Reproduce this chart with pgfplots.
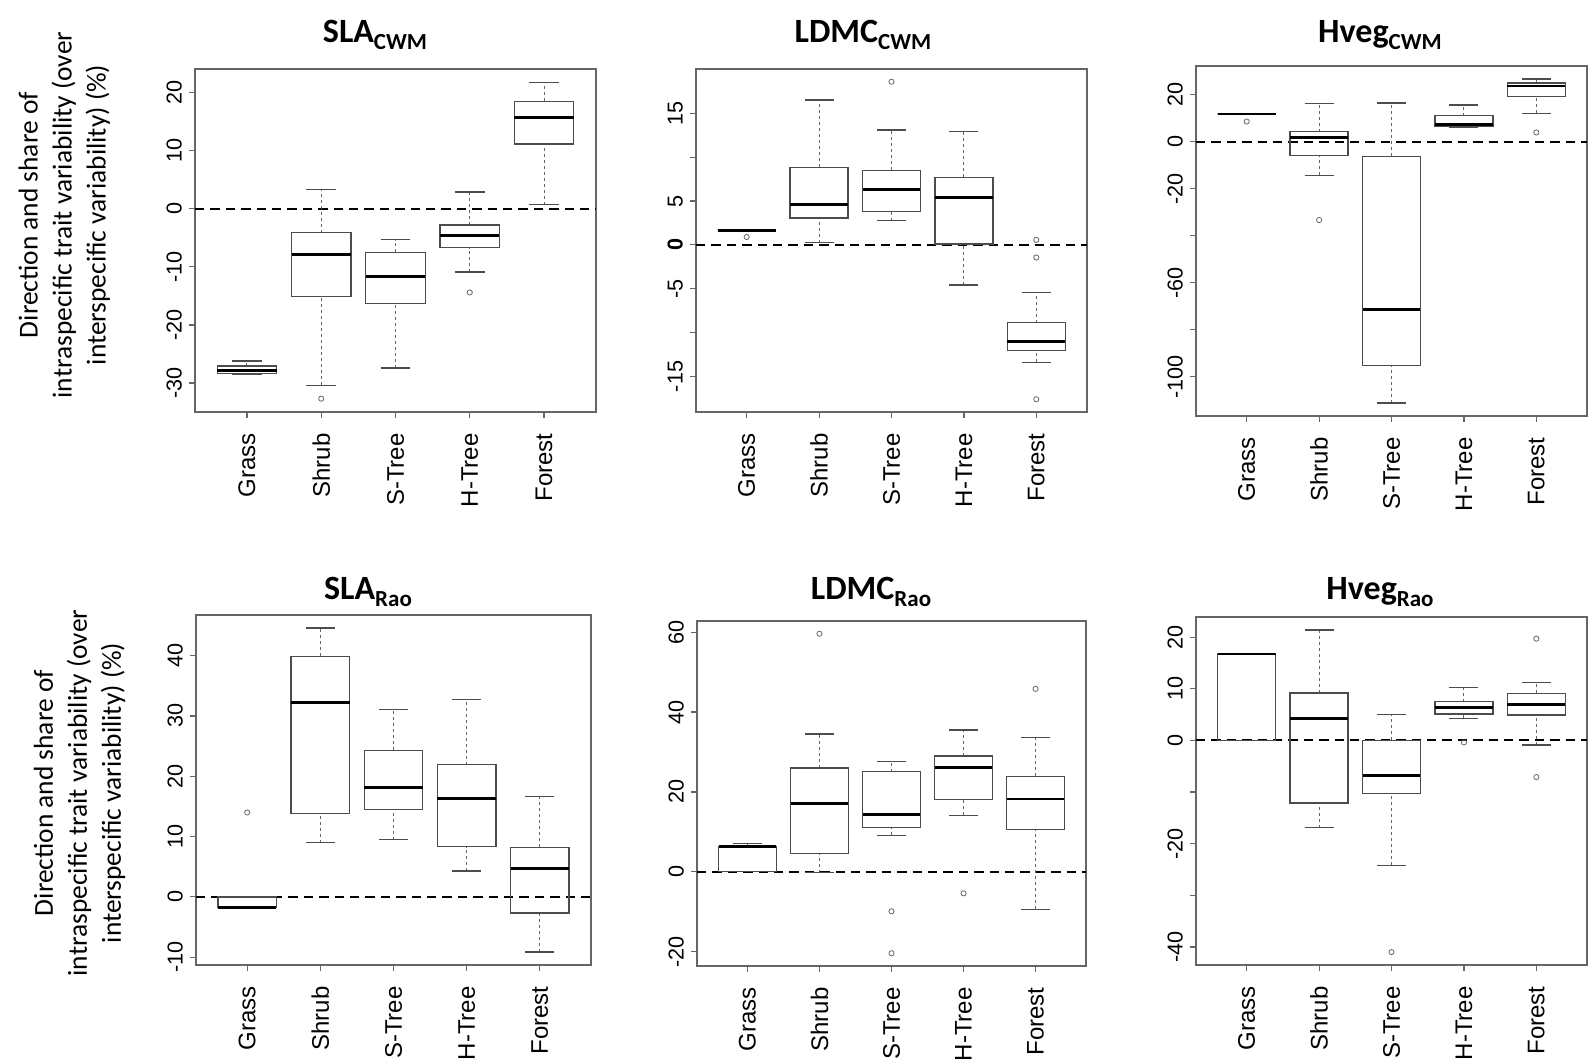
\documentclass[border=0pt]{standalone}
\usepackage{fontspec}
\setmainfont{Liberation Sans}
\newfontfamily\calib{Carlito}
\usepackage{pgfplots}
\pgfplotsset{compat=1.18}
\usepgfplotslibrary{statistics}

\pgfplotsset{
  rbox/.style={
    scale only axis,
    xmin=0.3, xmax=5.7,
    axis line style={draw=black!60, line width=0.6pt},
    every tick/.style={draw=black!60, line width=0.6pt},
    tick align=outside,
    major tick length=3pt,
    tick pos=left,
    xtick={1,2,3,4,5},
    xticklabels={Grass,Shrub,S-Tree,H-Tree,Forest},
    xticklabel style={rotate=90, anchor=east, font=\fontsize{12}{14}\selectfont},
    yticklabel style={rotate=90, anchor=south, font=\fontsize{10.8}{12}\selectfont},
    xticklabel shift=4.2pt,
    yticklabel shift=0pt,
    boxplot/draw direction=y,
    boxplot/box extend=0.8,
    boxplot/whisker extend=0.4,
    boxplot/every box/.style={draw=black!70, line width=0.65pt},
    boxplot/every median/.style={draw=black, line width=1.4pt},
    boxplot/draw/lower whisker/.code={%
      \draw[black!60, line width=0.5pt, dash pattern=on 1.5pt off 1.5pt]
        (boxplot box cs:\pgfplotsboxplotvalue{lower whisker},0.5) --
        (boxplot box cs:\pgfplotsboxplotvalue{lower quartile},0.5);
      \draw[black!70, line width=0.65pt]
        (boxplot whisker cs:\pgfplotsboxplotvalue{lower whisker},0) --
        (boxplot whisker cs:\pgfplotsboxplotvalue{lower whisker},1);
    },
    boxplot/draw/upper whisker/.code={%
      \draw[black!60, line width=0.5pt, dash pattern=on 1.5pt off 1.5pt]
        (boxplot box cs:\pgfplotsboxplotvalue{upper quartile},0.5) --
        (boxplot box cs:\pgfplotsboxplotvalue{upper whisker},0.5);
      \draw[black!70, line width=0.65pt]
        (boxplot whisker cs:\pgfplotsboxplotvalue{upper whisker},0) --
        (boxplot whisker cs:\pgfplotsboxplotvalue{upper whisker},1);
    },
  },
  bx/.style={draw=black!70, solid, mark=o, mark size=1.3pt,
    mark options={draw=black!60, line width=0.4pt, solid}},
  zeroline/.style={black, line width=1pt, dash pattern=on 4.7pt off 3pt},
}

\newcommand{\ttl}[2]{{\calib\bfseries\fontsize{17}{20}\selectfont #1\raisebox{-3.5pt}{\fontsize{11.5}{12}\selectfont #2}}}

\begin{document}
\begin{tikzpicture}
\useasboundingbox (0,0) rectangle (794.5pt,532pt);

% ---------- P1 SLA CWM ----------
\begin{axis}[rbox, at={(97.5pt,326pt)}, anchor=south west,
  width=200.5pt, height=171.5pt, ymin=-35, ymax=24.1,
  ytick={-30,-20,-10,0,10,20}, yticklabels={-30,-20,-10,0,10,20}]
\addplot[zeroline] coordinates {(0.3,0) (5.7,0)};
\addplot[bx, boxplot prepared={draw position=1, lower whisker=-28.5, lower quartile=-28.4, median=-27.8, upper quartile=-27.1, upper whisker=-26.2}] coordinates {};
\addplot[bx, boxplot prepared={draw position=2, lower whisker=-30.4, lower quartile=-15.1, median=-7.8, upper quartile=-4.1, upper whisker=3.3}] table[row sep=\\, y index=0] {\\ -32.7\\};
\addplot[bx, boxplot prepared={draw position=3, lower whisker=-27.4, lower quartile=-16.3, median=-11.7, upper quartile=-7.5, upper whisker=-5.3}] coordinates {};
\addplot[bx, boxplot prepared={draw position=4, lower whisker=-10.9, lower quartile=-6.7, median=-4.6, upper quartile=-2.8, upper whisker=2.9}] table[row sep=\\, y index=0] {\\ -14.4\\};
\addplot[bx, boxplot prepared={draw position=5, lower whisker=0.7, lower quartile=11.2, median=15.8, upper quartile=18.5, upper whisker=21.8}] coordinates {};
\end{axis}

% ---------- P2 LDMC CWM ----------
\begin{axis}[rbox, at={(348pt,326pt)}, anchor=south west,
  width=195.5pt, height=171.5pt, ymin=-19.05, ymax=20.05,
  ytick={-15,-10,-5,0,5,10,15}, yticklabels={-15,,-5,\textbf{0},5,,15}]
\addplot[zeroline] coordinates {(0.3,0) (5.7,0)};
\addplot[bx, boxplot prepared={draw position=1, lower whisker=1.6, lower quartile=1.6, median=1.6, upper quartile=1.6, upper whisker=1.6}] table[row sep=\\, y index=0] {\\ 0.9\\};
\addplot[bx, boxplot prepared={draw position=2, lower whisker=0.27, lower quartile=3.08, median=4.6, upper quartile=8.86, upper whisker=16.5}] coordinates {};
\addplot[bx, boxplot prepared={draw position=3, lower whisker=2.74, lower quartile=3.84, median=6.3, upper quartile=8.5, upper whisker=13.1}] table[row sep=\\, y index=0] {\\ 18.6\\};
\addplot[bx, boxplot prepared={draw position=4, lower whisker=-4.56, lower quartile=0.1, median=5.4, upper quartile=7.7, upper whisker=12.9}] coordinates {};
\addplot[bx, boxplot prepared={draw position=5, lower whisker=-13.4, lower quartile=-12.05, median=-11.06, upper quartile=-8.86, upper whisker=-5.4}] table[row sep=\\, y index=0] {\\ 0.57\\ -1.44\\ -17.6\\};
\end{axis}

% ---------- P3 Hveg CWM ----------
\begin{axis}[rbox, at={(598pt,324pt)}, anchor=south west,
  width=195.5pt, height=175pt, ymin=-116.7, ymax=32.3,
  ytick={-100,-80,-60,-40,-20,0,20}, yticklabels={-100,,-60,,-20,0,20}]
\addplot[zeroline] coordinates {(0.3,0) (5.7,0)};
\addplot[bx, boxplot prepared={draw position=1, lower whisker=11.9, lower quartile=11.9, median=11.9, upper quartile=11.9, upper whisker=11.9}] table[row sep=\\, y index=0] {\\ 8.65\\};
\addplot[bx, boxplot prepared={draw position=2, lower whisker=-14.2, lower quartile=-5.7, median=2.0, upper quartile=4.4, upper whisker=16.3}] table[row sep=\\, y index=0] {\\ -33.3\\};
\addplot[bx, boxplot prepared={draw position=3, lower whisker=-111.2, lower quartile=-95.3, median=-71.5, upper quartile=-6.2, upper whisker=16.6}] coordinates {};
\addplot[bx, boxplot prepared={draw position=4, lower whisker=6.2, lower quartile=6.4, median=7.4, upper quartile=11.2, upper whisker=15.7}] coordinates {};
\addplot[bx, boxplot prepared={draw position=5, lower whisker=12.1, lower quartile=19.4, median=23.8, upper quartile=25.1, upper whisker=26.8}] table[row sep=\\, y index=0] {\\ 4.0\\};
\end{axis}

% ---------- P4 SLA Rao ----------
\begin{axis}[rbox, at={(98pt,49.5pt)}, anchor=south west,
  width=197.5pt, height=175pt, ymin=-11.3, ymax=46.75,
  ytick={-10,0,10,20,30,40}, yticklabels={-10,0,10,20,30,40}]
\addplot[zeroline] coordinates {(0.3,0) (5.7,0)};
\addplot[bx, boxplot prepared={draw position=1, lower whisker=-1.8, lower quartile=-1.8, median=-1.8, upper quartile=0, upper whisker=0}] table[row sep=\\, y index=0] {\\ 14.0\\};
\addplot[bx, boxplot prepared={draw position=2, lower whisker=9.0, lower quartile=13.8, median=32.2, upper quartile=39.9, upper whisker=44.6}] coordinates {};
\addplot[bx, boxplot prepared={draw position=3, lower whisker=9.5, lower quartile=14.5, median=18.2, upper quartile=24.3, upper whisker=31.1}] coordinates {};
\addplot[bx, boxplot prepared={draw position=4, lower whisker=4.3, lower quartile=8.3, median=16.25, upper quartile=21.9, upper whisker=32.7}] coordinates {};
\addplot[bx, boxplot prepared={draw position=5, lower whisker=-9.15, lower quartile=-2.7, median=4.66, upper quartile=8.2, upper whisker=16.6}] coordinates {};
\end{axis}

% ---------- P5 LDMC Rao ----------
\begin{axis}[rbox, at={(348.5pt,49pt)}, anchor=south west,
  width=194.5pt, height=172.5pt, ymin=-23.6, ymax=62.8,
  ytick={-20,0,20,40,60}, yticklabels={-20,0,20,40,60}]
\addplot[zeroline] coordinates {(0.3,0) (5.7,0)};
\addplot[bx, boxplot prepared={draw position=1, lower whisker=0, lower quartile=0, median=6.36, upper quartile=6.36, upper whisker=7.0}] coordinates {};
\addplot[bx, boxplot prepared={draw position=2, lower whisker=-0.25, lower quartile=4.6, median=17.0, upper quartile=26.0, upper whisker=34.5}] table[row sep=\\, y index=0] {\\ 59.6\\};
\addplot[bx, boxplot prepared={draw position=3, lower whisker=9.1, lower quartile=11.0, median=14.4, upper quartile=25.1, upper whisker=27.7}] table[row sep=\\, y index=0] {\\ -9.9\\ -20.4\\};
\addplot[bx, boxplot prepared={draw position=4, lower whisker=14.1, lower quartile=18.1, median=26.1, upper quartile=29.0, upper whisker=35.5}] table[row sep=\\, y index=0] {\\ -5.4\\};
\addplot[bx, boxplot prepared={draw position=5, lower whisker=-9.4, lower quartile=10.5, median=18.2, upper quartile=23.9, upper whisker=33.6}] table[row sep=\\, y index=0] {\\ 45.8\\};
\end{axis}

% ---------- P6 Hveg Rao ----------
\begin{axis}[rbox, at={(598pt,49.5pt)}, anchor=south west,
  width=195.5pt, height=174pt, ymin=-43.5, ymax=23.9,
  ytick={-40,-30,-20,-10,0,10,20}, yticklabels={-40,,-20,,0,10,20}]
\addplot[zeroline] coordinates {(0.3,0) (5.7,0)};
\addplot[bx, boxplot prepared={draw position=1, lower whisker=0, lower quartile=0, median=16.75, upper quartile=16.75, upper whisker=16.75}] coordinates {};
\addplot[bx, boxplot prepared={draw position=2, lower whisker=-16.9, lower quartile=-12.1, median=4.2, upper quartile=9.2, upper whisker=21.4}] coordinates {};
\addplot[bx, boxplot prepared={draw position=3, lower whisker=-24.2, lower quartile=-10.3, median=-6.8, upper quartile=0, upper whisker=5.06}] table[row sep=\\, y index=0] {\\ -41.0\\};
\addplot[bx, boxplot prepared={draw position=4, lower whisker=4.3, lower quartile=5.1, median=6.4, upper quartile=7.5, upper whisker=10.3}] table[row sep=\\, y index=0] {\\ -0.4\\};
\addplot[bx, boxplot prepared={draw position=5, lower whisker=-0.9, lower quartile=4.9, median=6.9, upper quartile=9.1, upper whisker=11.2}] table[row sep=\\, y index=0] {\\ 19.7\\ -7.1\\};
\end{axis}

% ---------- titles ----------
\node[anchor=base] at (187.5pt,510.5pt) {\ttl{SLA}{CWM}};
\node[anchor=base] at (431.5pt,510.5pt) {\ttl{LDMC}{CWM}};
\node[anchor=base] at (690pt,510.5pt) {\ttl{Hveg}{CWM}};
\node[anchor=base] at (184pt,232pt) {\ttl{SLA}{Rao}};
\node[anchor=base] at (435.5pt,232pt) {\ttl{LDMC}{Rao}};
\node[anchor=base] at (690pt,232pt) {\ttl{Hveg}{Rao}};

% ---------- y labels ----------
\node[rotate=90, align=center, font=\calib\fontsize{13.7}{17}\selectfont, inner sep=0pt] at (32.2pt,424.5pt)
  {Direction and share of\\intraspecific trait variability (over\\interspecific variability) (\%)};
\node[rotate=90, align=center, font=\calib\fontsize{13.7}{17}\selectfont, inner sep=0pt] at (39.8pt,135.5pt)
  {Direction and share of\\intraspecific trait variability (over\\interspecific variability) (\%)};
\end{tikzpicture}
\end{document}
